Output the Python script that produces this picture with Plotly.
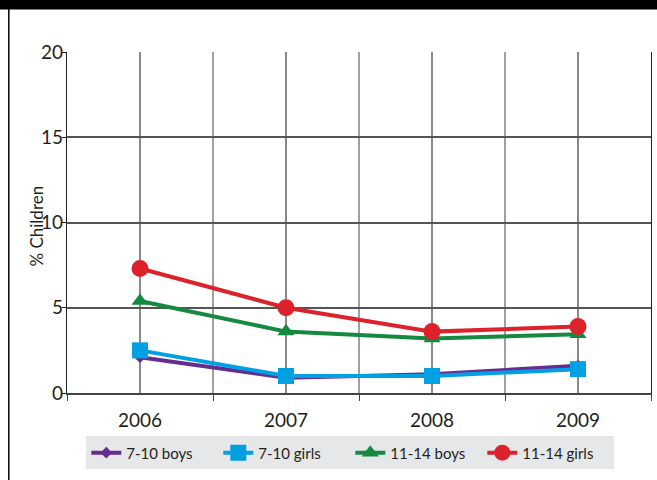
import plotly.graph_objects as go

years = [2006, 2007, 2008, 2009]
boys_7_10 = [2.1, 0.9, 1.1, 1.6]
girls_7_10 = [2.5, 1.0, 1.0, 1.4]
boys_11_14 = [5.4, 3.6, 3.2, 3.45]
girls_11_14 = [7.3, 5.0, 3.6, 3.9]

series_names = ["7-10 boys", "7-10 girls", "11-14 boys", "11-14 girls"]
y_ticks = [0, 5, 10, 15, 20]
y_title = "% Children"

FONT = "Lato"
W, H = 657, 480
ML, MR, MT, MB = 66.7, 6.3, 52, 86.5
PW, PH = W - ML - MR, H - MT - MB


def px_x(x):
    return (x - ML) / PW


def px_y(y):
    return (H - MB - y) / PH


fig = go.Figure()
styles = [
    (boys_7_10, "#662d91", "diamond", 9),
    (girls_7_10, "#00a0e3", "square", 16),
    (boys_11_14, "#15893f", "triangle-up", 15),
    (girls_11_14, "#dc222b", "circle", 17),
]
for name, (vals, col, sym, sz) in zip(series_names, styles):
    fig.add_trace(go.Scatter(
        x=years, y=vals, name=name, mode="lines+markers",
        line=dict(color=col, width=4),
        marker=dict(color=col, symbol=sym, size=sz, line=dict(width=0)),
    ))

fig.update_layout(
    width=W, height=H,
    margin=dict(l=ML, r=MR, t=MT, b=MB, pad=0, autoexpand=False),
    paper_bgcolor="white", plot_bgcolor="white",
    font=dict(family=FONT, size=19, color="#231f20"),
    showlegend=True,
    legend=dict(
        orientation="h", x=px_x(86), y=px_y(437), xanchor="left", yanchor="top",
        bgcolor="#e6e7e8", font=dict(size=15, family=FONT, color="#231f20"),
        entrywidth=87, entrywidthmode="pixels", itemwidth=30, tracegroupgap=0,
    ),
    xaxis=dict(
        range=[2005.5, 2009.5], tickvals=years, ticktext=[str(y) for y in years],
        showgrid=True, gridcolor="#8a8a8a", gridwidth=1.5,
        ticks="outside", ticklen=9, tickcolor="rgba(0,0,0,0)",
        minor=dict(tickvals=[2005.5, 2006.5, 2007.5, 2008.5, 2009.5], ticks="outside",
                   ticklen=6, tickcolor="#444", showgrid=True, gridcolor="#a0a0a0", gridwidth=1.5),
        showline=True, linecolor="#444", linewidth=1.5, mirror=False,
        zeroline=False, automargin=False,
    ),
    yaxis=dict(
        range=[0, 20], tickvals=y_ticks, showgrid=True, gridcolor="#555", gridwidth=1.5,
        ticks="outside", ticklen=4, tickcolor="#231f20", ticklabelstandoff=-5,
        showline=True, linecolor="#231f20", linewidth=1.2, mirror=True,
        zeroline=False, automargin=False,
    ),
    annotations=[
        dict(text=y_title, textangle=-90, xref="paper", yref="paper",
             x=px_x(36.5), y=px_y(226), xanchor="center", yanchor="middle",
             showarrow=False, font=dict(size=17, family=FONT, color="#231f20")),
    ],
    shapes=[
        dict(type="rect", xref="paper", yref="paper", x0=px_x(-2), x1=px_x(W + 2), y0=px_y(9.5), y1=px_y(-5),
             fillcolor="black", line=dict(width=0), layer="above"),
        dict(type="line", xref="paper", yref="paper", x0=px_x(8.5), x1=px_x(8.5), y0=px_y(0), y1=px_y(H + 2),
             line=dict(color="black", width=1.5)),
    ],
)

fig.write_html("out.html", config={"displayModeBar": False},
               post_script="document.body.style.margin='0';")
